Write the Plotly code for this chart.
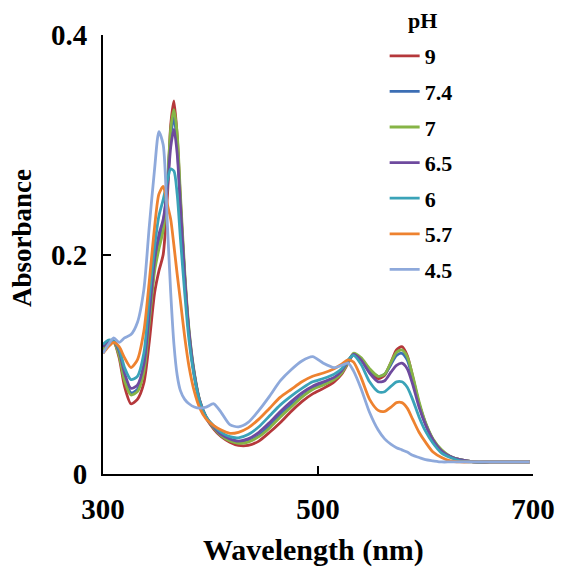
import plotly.graph_objects as go

wavelength = [300, 305, 310, 315, 320, 326, 332, 338, 343, 348, 352, 356, 360, 363, 366, 369,
              372, 376, 380, 385, 390, 396, 403, 410, 418, 426, 435, 445, 455, 465, 475, 485,
              495, 505, 515, 522, 528, 533, 540, 548, 556, 562, 568, 573, 578, 583, 588, 594,
              600, 607, 615, 623, 632, 645, 660, 697]

ph_9 = [.112, .118, .120, .106, .080, .064, .068, .083, .120, .165, .185, .200, .255, .318, .340, .308,
        .250, .180, .128, .090, .066, .051, .041, .034, .029, .026, .026, .030, .038, .047, .057, .066,
        .073, .078, .084, .091, .101, .109, .104, .093, .087, .090, .102, .113, .116, .108, .089, .064,
        .046, .031, .021, .016, .013, .011, .011, .011]
ph_74 = [.115, .120, .121, .110, .088, .074, .077, .095, .140, .190, .212, .228, .265, .308, .325, .300,
         .245, .178, .128, .090, .066, .051, .042, .035, .031, .029, .030, .035, .044, .054, .063, .071,
         .078, .082, .087, .093, .102, .109, .105, .095, .089, .091, .100, .108, .110, .104, .087, .064,
         .046, .031, .021, .016, .013, .011, .011, .011]
ph_7 = [.113, .119, .120, .108, .085, .072, .075, .093, .138, .185, .205, .222, .265, .315, .332, .310,
        .255, .185, .132, .092, .067, .052, .042, .035, .030, .028, .029, .034, .042, .052, .061, .070,
        .077, .081, .086, .092, .102, .110, .106, .096, .089, .091, .102, .111, .113, .107, .090, .066,
        .047, .032, .022, .016, .013, .011, .011, .011]
ph_65 = [.116, .121, .121, .112, .092, .078, .081, .100, .145, .195, .218, .232, .262, .298, .314, .292,
         .245, .180, .130, .091, .067, .052, .043, .036, .032, .030, .032, .038, .047, .057, .066, .074,
         .080, .084, .088, .094, .103, .109, .104, .092, .084, .085, .093, .099, .101, .096, .082, .061,
         .045, .031, .021, .016, .013, .011, .011, .011]
ph_6 = [.118, .122, .121, .114, .097, .086, .089, .110, .160, .207, .235, .250, .268, .278, .276, .255,
        .215, .165, .122, .088, .066, .052, .044, .038, .034, .033, .036, .043, .053, .063, .071, .078,
        .084, .087, .091, .096, .104, .108, .100, .084, .075, .075, .080, .084, .084, .079, .068, .052,
        .039, .028, .019, .015, .012, .011, .011, .011]
ph_57 = [.110, .116, .120, .116, .106, .097, .104, .130, .175, .225, .255, .262, .245, .232, .208, .182,
         .158, .125, .098, .075, .060, .050, .044, .040, .037, .038, .042, .050, .060, .070, .077, .084,
         .089, .092, .096, .100, .104, .102, .088, .068, .058, .057, .061, .065, .065, .060, .050, .038,
         .029, .020, .015, .012, .011, .011, .011, .011]
ph_45 = [.110, .118, .124, .120, .124, .127, .138, .168, .225, .278, .312, .300, .225, .165, .118, .090,
         .076, .068, .064, .061, .060, .061, .064, .056, .045, .043, .047, .058, .071, .085, .095, .103,
         .107, .101, .097, .099, .101, .094, .078, .056, .040, .032, .027, .024, .022, .020, .017, .015,
         .013, .012, .011, .011, .011, .011, .011, .011]

series_names = ["9", "7.4", "7", "6.5", "6", "5.7", "4.5"]
series_values = [ph_9, ph_74, ph_7, ph_65, ph_6, ph_57, ph_45]
colors = ["#B5383B", "#3C6EB4", "#86B446", "#6E4A9E", "#3AA3B8", "#EE822F", "#8EA9DB"]

x_ticks = [300, 500, 700]
y_ticks = [0, 0.2, 0.4]
y_tick_text = ["0", "0.2", "0.4"]

FONT = "Liberation Serif"

fig = go.Figure()
for i, (name, vals, col) in enumerate(zip(series_names, series_values, colors)):
    fig.add_trace(go.Scatter(
        x=wavelength, y=vals, name=name, mode="lines",
        line=dict(color=col, width=2.8, shape="spline", smoothing=0.7),
        legendgroup=f"g{i}",
    ))

fig.update_layout(
    width=556, height=566,
    margin=dict(l=95, r=31, t=27, b=100, autoexpand=False),
    paper_bgcolor="white", plot_bgcolor="white",
    showlegend=True,
    legend=dict(
        x=0.655, y=1.0, xanchor="left", yanchor="top",
        bgcolor="rgba(0,0,0,0)",
        font=dict(family=FONT, size=22, color="black", weight="bold"),
        tracegroupgap=4,
    ),
    xaxis=dict(
        range=[300, 700], tickvals=x_ticks, ticks="inside", ticklen=8, tickwidth=2,
        tickcolor="black", showline=True, linecolor="black", linewidth=2,
        showgrid=False, zeroline=False, automargin=False,
        tickfont=dict(family=FONT, size=29, color="black", weight="bold"),
        ticklabelstandoff=8,
    ),
    yaxis=dict(
        range=[0, 0.4], tickvals=y_ticks, ticktext=y_tick_text, ticks="inside", ticklen=8,
        tickwidth=2, tickcolor="black", showline=True, linecolor="black", linewidth=2,
        showgrid=False, zeroline=False, automargin=False,
        tickfont=dict(family=FONT, size=29, color="black", weight="bold"),
        ticklabelstandoff=8,
    ),
    annotations=[
        dict(text="pH", xref="paper", yref="paper", x=0.742, y=1.034,
             xanchor="center", yanchor="middle", showarrow=False,
             font=dict(family=FONT, size=22, color="black", weight="bold")),
        dict(text="Wavelength (nm)", xref="paper", yref="paper", x=0.49, y=-0.173,
             xanchor="center", yanchor="middle", showarrow=False,
             font=dict(family=FONT, size=30, color="black", weight="bold")),
        dict(text="Absorbance", xref="paper", yref="paper", x=-0.188, y=0.538,
             xanchor="center", yanchor="middle", showarrow=False, textangle=-90,
             font=dict(family=FONT, size=27, color="black", weight="bold")),
    ],
)

fig.write_html("out.html")
